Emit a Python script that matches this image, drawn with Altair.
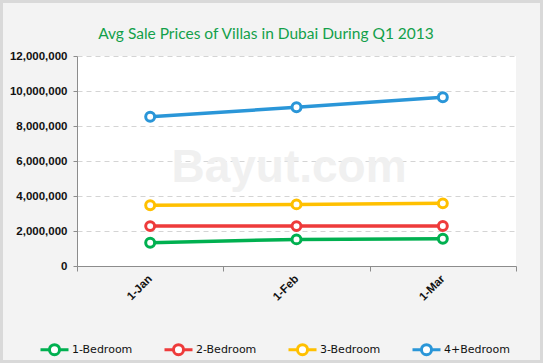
import altair as alt
import pandas as pd

months = ["1-Jan", "1-Feb", "1-Mar"]
series = ["1-Bedroom", "2-Bedroom", "3-Bedroom", "4+Bedroom"]
bed1 = [1330000, 1520000, 1560000]
bed2 = [2280000, 2280000, 2290000]
bed3 = [3470000, 3520000, 3580000]
bed4 = [8530000, 9070000, 9640000]
colors = ["#00b050", "#ee3b3b", "#ffc000", "#2a96d8"]
y_ticks = [0, 2000000, 4000000, 6000000, 8000000, 10000000, 12000000]
title_text = "Avg Sale Prices of Villas in Dubai During Q1 2013"

rows = []
for name, vals in zip(series, [bed1, bed2, bed3, bed4]):
    for m, v in zip(months, vals):
        rows.append({"month": m, "series": name, "price": v})
df = pd.DataFrame(rows)

W, H = 439, 210
PAD = {"left": 77, "top": 56, "right": 27, "bottom": 97}

legend_path = ("M-1,0 L-0.36,0 M0.36,0 L1,0 "
               "M-0.36,0 A0.36,0.36 0 1,0 0.36,0 A0.36,0.36 0 1,0 -0.36,0 Z")

x_enc = alt.X(
    "month:O",
    sort=months,
    scale=alt.Scale(type="band", paddingInner=0, paddingOuter=0),
    axis=alt.Axis(
        title=None, labelAngle=-45, labelAlign="right", labelBaseline="middle",
        labelFont="Liberation Sans", labelFontSize=11.5, labelFontWeight="bold",
        labelColor="#111111", labelPadding=6, tickBand="extent", tickSize=5,
        tickColor="#8c8c8c", domainColor="#8c8c8c", grid=False,
    ),
)
y_enc = alt.Y(
    "price:Q",
    scale=alt.Scale(domain=[0, 12000000]),
    axis=alt.Axis(
        title=None, values=y_ticks, format=",.0f", labelFont="Liberation Sans",
        labelFontSize=11.5, labelFontWeight="bold", labelColor="#111111",
        tickSize=4, labelPadding=6, tickColor="#8c8c8c", domainColor="#8c8c8c",
        grid=True, gridColor="#d4d4d4", gridDash=[5, 4], gridWidth=1,
    ),
)
color_enc = alt.Color(
    "series:N",
    sort=series,
    scale=alt.Scale(domain=series, range=colors),
    legend=alt.Legend(
        title=None, orient="none", legendX=-38, legendY=278, direction="horizontal",
        symbolType=legend_path, symbolSize=784, symbolStrokeWidth=3,
        symbolFillColor="white", labelFont="DejaVu Sans", labelFontSize=11,
        labelColor="#111111", labelOffset=2, columnPadding=25,
    ),
)

frame = alt.Chart(pd.DataFrame({"a": [0]})).mark_rect(
    fill="white", fillOpacity=0, stroke="#d9d9d9", strokeWidth=3
).encode(
    x=alt.value(-75.5), x2=alt.value(464.5), y=alt.value(-54.5), y2=alt.value(305.5)
)

title = alt.Chart(pd.DataFrame({"t": [title_text]})).mark_text(
    font="Lato", fontSize=15.5, color="#12a04a", align="center", baseline="middle"
).encode(text="t:N", x=alt.value(189), y=alt.value(-22))

watermark = alt.Chart(pd.DataFrame({"t": ["Bayut.com"]})).mark_text(
    font="Liberation Sans", fontSize=46, fontWeight="bold", color="#f0f0f0",
    align="center", baseline="middle"
).encode(text="t:N", x=alt.value(212), y=alt.value(112))

lines = alt.Chart(df).mark_line(
    strokeWidth=3.5,
    point=alt.OverlayMarkDef(filled=False, fill="white", size=80, strokeWidth=3, opacity=1),
).encode(x=x_enc, y=y_enc, color=color_enc)

chart = alt.layer(frame, title, watermark, lines).properties(
    width=W, height=H,
    padding=PAD,
    autosize=alt.AutoSizeParams(type="none"),
    background="#f3f3f3",
).configure_view(fill="white", stroke=None)

chart.save("out.html", embed_options={"renderer": "svg", "actions": False})
